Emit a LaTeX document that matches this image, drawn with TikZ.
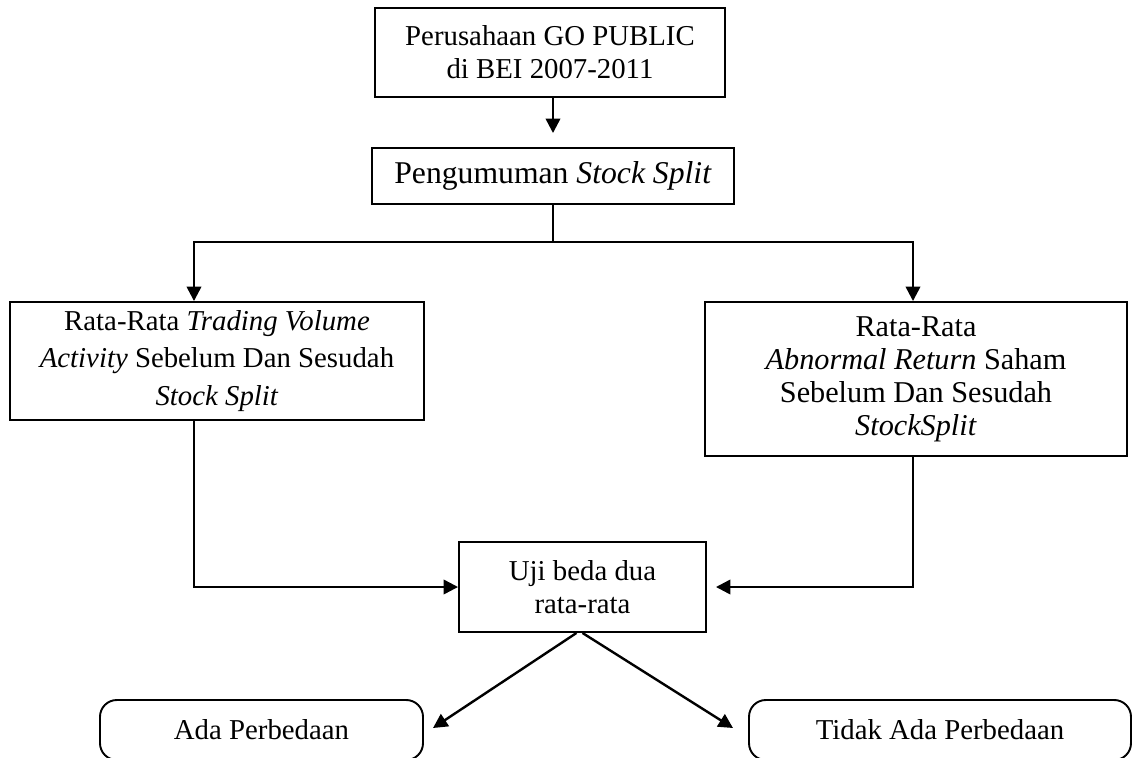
\documentclass[tikz,border=0pt]{standalone}
\usepackage{fontspec}
\setmainfont{Liberation Serif}
\usetikzlibrary{arrows.meta,calc}
\def\pxu{0.4167pt}
\tikzset{
  box/.style={draw, line width=0.8pt, inner sep=0pt, align=center, font=\fontsize{12}{13.8}\selectfont},
  rbox/.style={box, rounded corners=7pt},
  conn/.style={line width=1pt},
  arr/.style={conn, -{Triangle[length=6pt,width=6pt]}},
}
\begin{document}
\begin{tikzpicture}[x=0.4167pt, y=-0.4167pt]
\useasboundingbox (0,0) rectangle (1133,758);
\node[box, minimum width=350*\pxu, minimum height=89*\pxu] (top) at (550,52.5) {Perusahaan GO PUBLIC\\di BEI 2007-2011};
\node[box, minimum width=362*\pxu, minimum height=56*\pxu, font=\fontsize{13.2}{15}\selectfont] (peng) at (553,176) {Pengumuman \textit{Stock Split}};
\node[box, minimum width=414*\pxu, minimum height=118*\pxu, font=\fontsize{12}{15.8}\selectfont] (left) at (217,361) {Rata-Rata \textit{Trading Volume}\\\textit{Activity} Sebelum Dan Sesudah\\\textit{Stock Split}};
\node[box, minimum width=422*\pxu, minimum height=154*\pxu, font=\fontsize{12.6}{13.8}\selectfont] (right) at (916,379) {Rata-Rata\\\textit{Abnormal Return} Saham\\Sebelum Dan Sesudah\\\textit{StockSplit}};
\node[box, minimum width=247*\pxu, minimum height=90*\pxu] (uji) at (582.5,587) {Uji beda dua\\rata-rata};
\node[rbox, minimum width=323*\pxu, minimum height=60*\pxu] (ada) at (261.5,730) {Ada Perbedaan};
\node[rbox, minimum width=382*\pxu, minimum height=60*\pxu] (tidak) at (940,730) {Tidak Ada Perbedaan};
\coordinate (jl) at (194,242);
\coordinate (jr) at (913,242);
\coordinate (adatip) at (433,728);
\coordinate (tidaktip) at (733,728);
\draw[arr, shorten >=14*\pxu] (top.south -| peng.north) -- (peng.north);
\draw[conn] (peng.south) -- (peng.south |- jl);
\draw[arr] (jl -| peng.south) -- (jl) -- (jl |- left.north);
\draw[arr] (jl -| peng.south) -- (jr) -- (jr |- right.north);
\draw[arr] (jl |- left.south) |- (uji.west);
\draw[arr, shorten >=9*\pxu] (jr |- right.south) |- (uji.east);
\draw[arr] ($(uji.south)+(-6,0)$) -- (adatip);
\draw[arr] (uji.south) -- (tidaktip);
\end{tikzpicture}
\end{document}
